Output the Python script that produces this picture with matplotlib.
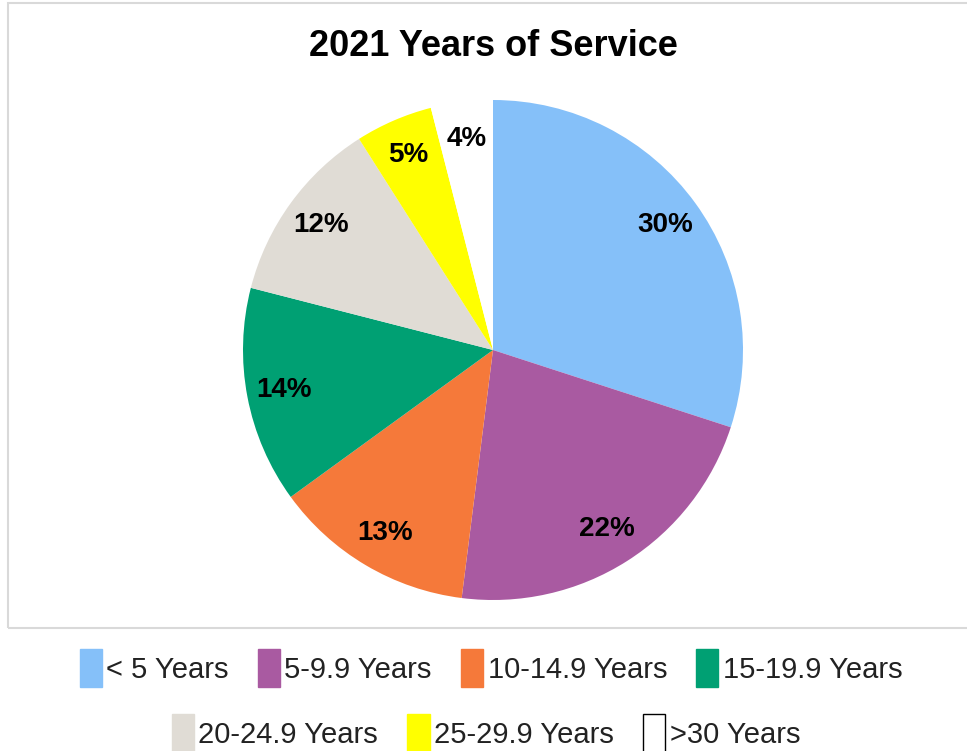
import matplotlib
matplotlib.use("Agg")
import matplotlib.pyplot as plt
from matplotlib.patches import Rectangle, Patch
from matplotlib import font_manager

categories = ["< 5 Years", "5-9.9 Years", "10-14.9 Years", "15-19.9 Years",
              "20-24.9 Years", "25-29.9 Years", ">30 Years"]
shares = [30, 22, 13, 14, 12, 5, 4]
colors = ["#85C0F9", "#A95AA1", "#F5793A", "#00A073", "#E0DCD5", "#FFFF00", "#FFFFFF"]

W, H = 967, 751
fig = plt.figure(figsize=(W / 100, H / 100), dpi=100)
fig.patch.set_facecolor("white")

bold_font = ["Liberation Sans", "DejaVu Sans"]
names = {f.name for f in font_manager.fontManager.ttflist}
legend_font = ["Liberation Sans Narrow"] if "Liberation Sans Narrow" in names else ["Liberation Sans"]
legend_size = 24 if legend_font[0] == "Liberation Sans Narrow" else 21

# plot-area frame
frame = Rectangle((8 / W, 1 - 628 / H), 1.2, (628 - 3) / H, transform=fig.transFigure,
                  facecolor="none", edgecolor="#D9D9D9", linewidth=1.5, clip_on=False)
fig.patches.append(frame)

# pie axes: centre (493, 350), radius 250 px
cx, cy, r = 493, 350, 250
ax = fig.add_axes([(cx - r) / W, 1 - (cy + r) / H, 2 * r / W, 2 * r / H])
wedges, texts, autotexts = ax.pie(
    shares, colors=colors, startangle=90, counterclock=False,
    autopct=lambda p: f"{p:.0f}%", pctdistance=0.85, radius=1,
    wedgeprops=dict(linewidth=0),
    textprops=dict(fontsize=20, fontweight="bold", color="black", family=bold_font))
ax.set_xlim(-1, 1)
ax.set_ylim(-1, 1)
ax.set_aspect("equal")
ax.axis("off")

fig.text(cx / W, 1 - 47 / H, "2021 Years of Service", ha="center", va="center",
         fontsize=26, fontweight="bold", family=bold_font)

def handles(idx):
    hs = []
    for i in idx:
        edge = "black" if colors[i].upper() == "#FFFFFF" else colors[i]
        hs.append(Patch(facecolor=colors[i], edgecolor=edge, linewidth=1.0))
    return hs

common = dict(frameon=False, handlelength=0.76, handleheight=1.6, handletextpad=0.15,
              columnspacing=1.0, prop=dict(family=legend_font, size=legend_size),
              labelcolor="#222222")
row1 = [0, 1, 2, 3]
row2 = [4, 5, 6]
fig.legend(handles(row1), [categories[i] for i in row1], ncol=len(row1),
           loc="center", bbox_to_anchor=(491 / W, 1 - 668 / H), **common)
fig.legend(handles(row2), [categories[i] for i in row2], ncol=len(row2),
           loc="center", bbox_to_anchor=(486 / W, 1 - 733 / H), **common)

fig.savefig("out.png", dpi=100, facecolor="white")
